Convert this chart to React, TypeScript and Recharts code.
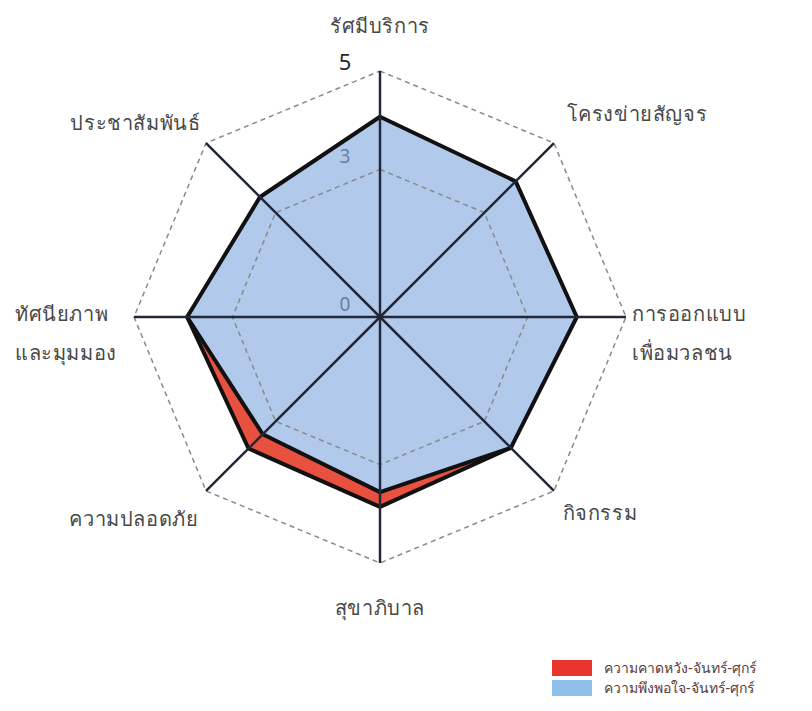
import React from 'react';
import {
  RadarChart,
  Radar,
  PolarGrid,
  PolarAngleAxis,
  PolarRadiusAxis,
  Legend
} from 'recharts';

const categories = [
  'รัศมีบริการ',
  'โครงข่ายสัญจร',
  'การออกแบบ\nเพื่อมวลชน',
  'กิจกรรม',
  'สุขาภิบาล',
  'ความปลอดภัย',
  'ทัศนียภาพ\nและมุมมอง',
  'ประชาสัมพันธ์'
];
const expectation = [3.9, 3.7, 3.8, 3.76, 3.86, 3.78, 3.92, 3.3];
const satisfaction = [4.07, 3.9, 4.0, 3.76, 3.56, 3.37, 3.92, 3.45];
const radiusTicks = [0, 3, 5];
const seriesNames = ['ความคาดหวัง-จันทร์-ศุกร์', 'ความพึงพอใจ-จันทร์-ศุกร์'];

const data = categories.map((c, i) => ({
  subject: c,
  expectation: expectation[i],
  satisfaction: satisfaction[i]
}));

const FONT = '"Noto Sans", "DejaVu Sans", sans-serif';

// label placement around each spoke (relative to the tick point)
const labelPos = [
  { dx: 0, dy: -38, anchor: 'middle' },
  { dx: 7, dy: -24, anchor: 'start' },
  { dx: -2, dy: -4, anchor: 'start' },
  { dx: 3, dy: 15, anchor: 'start' },
  { dx: 0, dy: 36, anchor: 'middle' },
  { dx: -2, dy: 21, anchor: 'end' },
  { dx: -111, dy: -4, anchor: 'start' },
  { dx: 0, dy: -15, anchor: 'end' }
];

const AngleTick = (props: any) => {
  const { x, y, payload, index } = props;
  const p = labelPos[index] || { dx: 0, dy: 0, anchor: 'middle' };
  const lines = String(payload.value).split('\n');
  return (
    <text
      x={x + p.dx}
      y={y + p.dy}
      textAnchor={p.anchor}
      dominantBaseline="central"
      fill="#484848"
      fontSize={20}
      letterSpacing={0.6}
      fontFamily={FONT}
    >
      {lines.map((l, i) => (
        <tspan key={i} x={x + p.dx} dy={i === 0 ? 0 : 39}>
          {l}
        </tspan>
      ))}
    </text>
  );
};

const RadiusTick = (props: any) => {
  const { x, y, payload } = props;
  const isMax = payload.value === 5;
  return (
    <text
      x={x - 35}
      y={y - (isMax ? 10 : 13)}
      textAnchor="middle"
      dominantBaseline="central"
      fill={isMax ? '#2a2a2a' : '#6a7f9e'}
      fontSize={isMax ? 22 : 19}
      fontFamily={FONT}
    >
      {payload.value}
    </text>
  );
};

const LegendContent = () => (
  <div style={{ fontFamily: FONT, fontSize: 14, color: '#5a3a3a' }}>
    {seriesNames.map((n, i) => (
      <div key={n} style={{ display: 'flex', alignItems: 'center', height: 20 }}>
        <span
          style={{
            display: 'inline-block',
            width: 40,
            height: 16,
            background: i === 0 ? '#e8352b' : '#8fbfea',
            marginRight: 12
          }}
        />
        {n}
      </div>
    ))}
  </div>
);

export default function App() {
  return (
    <div style={{ position: 'absolute', left: 0, top: 0, width: 812, height: 711, background: '#fff' }}>
      <RadarChart
        width={812}
        height={711}
        data={data}
        cx={380}
        cy={317}
        outerRadius={246}
        startAngle={90}
        endAngle={-270}
        margin={{ top: 0, right: 0, bottom: 0, left: 0 }}
      >
        <Radar
          name={seriesNames[0]}
          dataKey="expectation"
          stroke="#111"
          strokeWidth={4}
          strokeLinejoin="round"
          fill="#e8503f"
          fillOpacity={1}
          isAnimationActive={false}
        />
        <Radar
          name={seriesNames[1]}
          dataKey="satisfaction"
          stroke="#111"
          strokeWidth={4}
          strokeLinejoin="round"
          fill="#b1caeb"
          fillOpacity={1}
          isAnimationActive={false}
        />
        <PolarGrid
          gridType="polygon"
          radialLines={false}
          stroke="#8a8a8a"
          strokeWidth={1.5}
          strokeDasharray="5 4"
          zIndex={1000}
        />
        <PolarGrid
          gridType="polygon"
          polarRadius={[0]}
          stroke="#22283a"
          strokeWidth={2.5}
          zIndex={1000}
        />
        <PolarAngleAxis
          dataKey="subject"
          tick={<AngleTick />}
          axisLine={false}
          tickLine={false}
        />
        <PolarRadiusAxis
          angle={90}
          domain={[0, 5]}
          ticks={radiusTicks as any}
          tickCount={3}
          axisLine={false}
          tickLine={false}
          tick={<RadiusTick />}
        />
        <Legend
          content={<LegendContent />}
          wrapperStyle={{ position: 'absolute', left: 552, top: 658, width: 260 }}
        />
      </RadarChart>
    </div>
  );
}
